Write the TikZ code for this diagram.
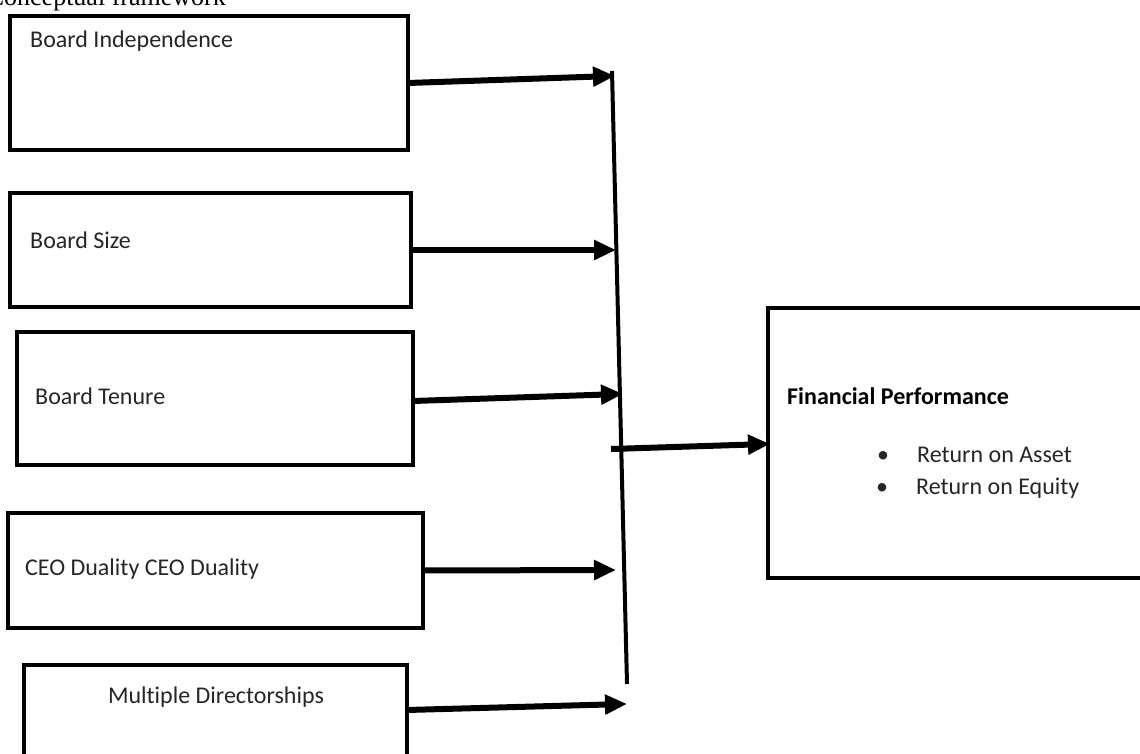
\documentclass[tikz,border=0pt]{standalone}
\usepackage{fontspec}
\setmainfont{Carlito}[Ligatures=NoCommon]
\newfontfamily\titlefont{Liberation Serif}
\usetikzlibrary{arrows.meta}
\tikzset{
  box/.style={draw=black, line width=4.5pt, inner sep=0pt, outer sep=0pt, fill=white},
  lbl/.style={inner sep=0pt, font=\fontsize{24}{28}\selectfont, text=black!85},
  conn/.style={line width=6pt, -{Triangle[length=22pt,width=19pt]}, shorten >=-2pt},
  bus/.style={line width=4pt}
}
\begin{document}
\begin{tikzpicture}[x=1pt,y=-1pt]
\useasboundingbox (0,0) rectangle (1140,754);
% title (cut off at the top-left, as in the reference)
\node[inner sep=0pt, anchor=base east, font=\titlefont\fontsize{26}{30}\selectfont] (title) at (226,6) {Conceptual framework};
% boxes
\node[box, minimum width=398pt, minimum height=134pt] (b1) at (209,83) {};
\node[box, minimum width=401pt, minimum height=114pt] (b2) at (210.5,250) {};
\node[box, minimum width=396pt, minimum height=133pt] (b3) at (215,398.5) {};
\node[box, minimum width=415pt, minimum height=115pt] (b4) at (215.5,570.5) {};
\node[box, minimum width=383pt, minimum height=120pt] (b5) at (215.5,725) {};
\node[box, minimum width=390pt, minimum height=270pt] (b6) at (963,443) {};
% labels
\node[lbl, anchor=west] (l1) at (30,41) {Board Independence};
\node[lbl, anchor=west] (l2) at (30,240) {Board Size};
\node[lbl, anchor=west] (l3) at (35,396) {Board Tenure};
\node[lbl, anchor=west] (l4) at (25,569) {CEO Duality CEO Duality};
\node[lbl] (l5) at (216,697) {Multiple Directorships};
\node[lbl, anchor=west, font=\bfseries\fontsize{24}{28}\selectfont, text=black] (l6) at (787,396) {Financial Performance};
\node[lbl, anchor=west] (l7) at (877,455) {•\hspace{28pt}Return on Asset};
\node[lbl, anchor=west] (l8) at (876,488) {•\hspace{28pt}Return on Equity};
% bus line
\coordinate (v1) at (612,71);
\coordinate (v2) at (627,684);
\draw[bus] (v1) -- (v2);
% arrow targets
\coordinate (t1) at (613,76);
\coordinate (t2) at (614,250);
\coordinate (t3) at (621,394);
\coordinate (t4) at (614,570);
\coordinate (t5) at (625,704);
\coordinate (o1) at (611,449);
\draw[conn] (b1.east) -- (t1);
\draw[conn] (b2.east) -- (t2);
\draw[conn] ([yshift=-2.5pt]b3.east) -- (t3);
\draw[conn] (b4.east) -- (t4);
\draw[conn] (b5.east |- 0,710) -- (t5);
\draw[conn] (o1) -- ([yshift=-1pt]b6.west);
\end{tikzpicture}
\end{document}
